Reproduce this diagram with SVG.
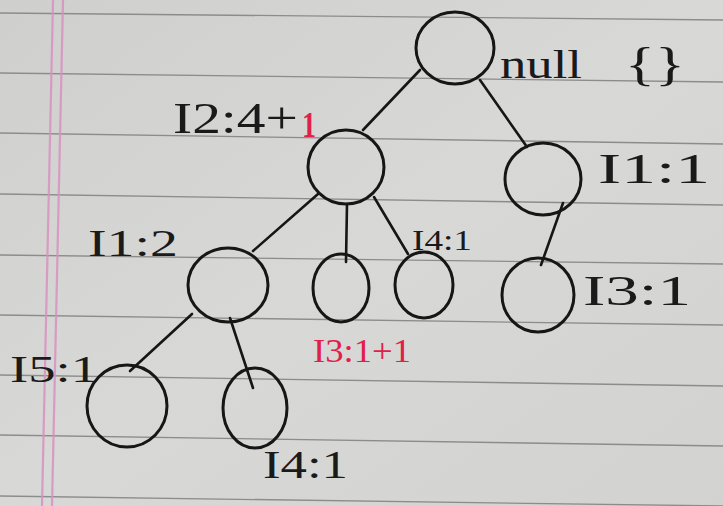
<svg xmlns="http://www.w3.org/2000/svg" width="723" height="506" viewBox="0 0 723 506">
<defs>
<linearGradient id="paper" x1="0" y1="0" x2="1" y2="1">
<stop offset="0" stop-color="#cfcfcd"/>
<stop offset="0.5" stop-color="#d8d8d6"/>
<stop offset="1" stop-color="#d2d2d0"/>
</linearGradient>
<style>
.rule{stroke:#8c8c8c;stroke-width:1.3;fill:none}
.margin{stroke:#d890c0;stroke-width:2.2;fill:none;opacity:0.85}
.node{fill:none;stroke:#161616;stroke-width:3}
.edge{stroke:#161616;stroke-width:2.6;fill:none;stroke-linecap:round}
.lbl{font-family:"Liberation Serif","Times New Roman",serif;fill:#1a1a1a}
.red{fill:#e0204a}
</style>
</defs>
<rect width="723" height="506" fill="url(#paper)"/>
<g id="paper-lines">
<line class="rule" x1="0" y1="13" x2="723" y2="20"/>
<line class="rule" x1="0" y1="73" x2="723" y2="82"/>
<line class="rule" x1="0" y1="133" x2="723" y2="144"/>
<line class="rule" x1="0" y1="194" x2="723" y2="205"/>
<line class="rule" x1="0" y1="255" x2="723" y2="264"/>
<line class="rule" x1="0" y1="315" x2="723" y2="325"/>
<line class="rule" x1="0" y1="375" x2="723" y2="386"/>
<line class="rule" x1="0" y1="435" x2="723" y2="446"/>
<line class="rule" x1="0" y1="496" x2="723" y2="506"/>
<line class="margin" x1="53" y1="0" x2="42" y2="506"/>
<line class="margin" x1="63" y1="0" x2="52" y2="506"/>
</g>
<g id="connectors">
<line class="edge" x1="420" y1="70" x2="363" y2="130"/>
<line class="edge" x1="480" y1="80" x2="527" y2="147"/>
<line class="edge" x1="318" y1="194" x2="253" y2="251"/>
<line class="edge" x1="347" y1="204" x2="346" y2="262"/>
<line class="edge" x1="374" y1="197" x2="408" y2="254"/>
<line class="edge" x1="563" y1="203" x2="541" y2="265"/>
<line class="edge" x1="192" y1="314" x2="130" y2="371"/>
<line class="edge" x1="230" y1="318" x2="253" y2="388"/>
</g>
<g id="root">
<ellipse class="node" cx="455" cy="48" rx="39" ry="36"/>
<text class="lbl" x="500" y="78" font-size="40" textLength="82" lengthAdjust="spacingAndGlyphs">null</text>
<text class="lbl" x="625" y="80" font-size="46" textLength="60" lengthAdjust="spacingAndGlyphs">{}</text>
</g>
<g id="n-I2">
<ellipse class="node" cx="346" cy="167" rx="38" ry="37"/>
<text class="lbl" x="173" y="133" font-size="44" textLength="125" lengthAdjust="spacingAndGlyphs">I2:4+</text>
<text class="lbl red" x="302" y="137" font-size="36" font-weight="bold" textLength="14" lengthAdjust="spacingAndGlyphs">1</text>
</g>
<g id="n-I1-right">
<ellipse class="node" cx="543" cy="179" rx="38" ry="36"/>
<text class="lbl" x="598" y="183" font-size="42" textLength="112" lengthAdjust="spacingAndGlyphs">I1:1</text>
</g>
<g id="n-I3-right">
<ellipse class="node" cx="538" cy="295" rx="36" ry="37"/>
<text class="lbl" x="583" y="305" font-size="42" textLength="108" lengthAdjust="spacingAndGlyphs">I3:1</text>
</g>
<g id="n-I1-2">
<ellipse class="node" cx="228" cy="285" rx="40" ry="37"/>
<text class="lbl" x="88" y="256" font-size="38" textLength="90" lengthAdjust="spacingAndGlyphs">I1:2</text>
</g>
<g id="n-I3-mid">
<ellipse class="node" cx="341" cy="288" rx="28" ry="34"/>
<text class="lbl red" x="313" y="362" font-size="34" textLength="98" lengthAdjust="spacingAndGlyphs">I3:1+1</text>
</g>
<g id="n-I4-mid">
<ellipse class="node" cx="424" cy="285" rx="29" ry="33"/>
<text class="lbl" x="412" y="250" font-size="30" textLength="60" lengthAdjust="spacingAndGlyphs">I4:1</text>
</g>
<g id="n-I5">
<ellipse class="node" cx="127" cy="406" rx="40" ry="41"/>
<text class="lbl" x="10" y="382" font-size="38" textLength="88" lengthAdjust="spacingAndGlyphs">I5:1</text>
</g>
<g id="n-I4-bottom">
<ellipse class="node" cx="255" cy="408" rx="32" ry="40"/>
<text class="lbl" x="263" y="478" font-size="40" textLength="85" lengthAdjust="spacingAndGlyphs">I4:1</text>
</g>
</svg>
